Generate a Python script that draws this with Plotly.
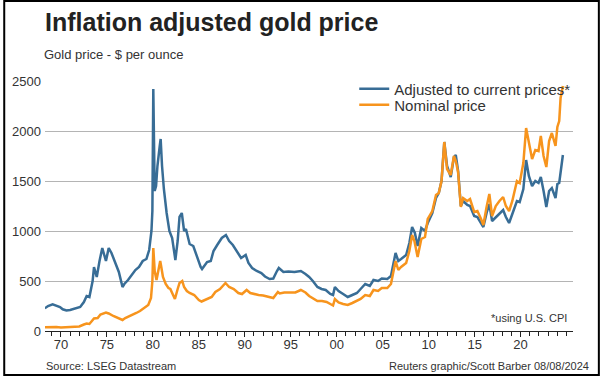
import plotly.graph_objects as go

# ---------------- data ----------------
adj_years = [1968.25, 1968.6, 1969.1, 1969.5, 1969.9, 1970.2, 1970.6, 1971.0, 1971.4, 1971.8,
             1972.1, 1972.5, 1972.8, 1973.1, 1973.45, 1973.6, 1973.9, 1974.2, 1974.5, 1974.9,
             1975.2, 1975.5, 1975.8, 1976.3, 1976.7, 1976.9, 1977.3, 1977.7, 1978.1, 1978.5,
             1978.9, 1979.3, 1979.6, 1979.85, 1979.95, 1980.05, 1980.1, 1980.2, 1980.35, 1980.5,
             1980.75, 1980.85, 1981.0, 1981.2, 1981.5, 1981.8, 1982.1, 1982.45, 1982.7, 1982.9,
             1983.15, 1983.4, 1983.6, 1984.0, 1984.4, 1984.7, 1985.2, 1985.35, 1985.9, 1986.3,
             1986.6, 1987.0, 1987.5, 1987.95, 1988.3, 1988.7, 1989.2, 1989.6, 1990.1, 1990.4,
             1990.8, 1991.3, 1991.8, 1992.2, 1992.7, 1993.1, 1993.5, 1993.7, 1994.2, 1994.75,
             1995.4, 1996.1, 1996.6, 1997.0, 1997.4, 1997.9, 1998.35, 1998.8, 1999.3, 1999.6,
             1999.8, 2000.2, 2000.7, 2001.2, 2001.7, 2002.2, 2002.6, 2003.1, 2003.6, 2004.0,
             2004.5, 2004.9, 2005.5, 2005.9, 2006.4, 2006.7, 2007.0, 2007.55, 2007.9, 2008.2,
             2008.5, 2008.8, 2009.2, 2009.6, 2009.9, 2010.4, 2010.8, 2011.1, 2011.4, 2011.7,
             2012.0, 2012.4, 2012.75, 2012.95, 2013.2, 2013.5, 2013.75, 2014.2, 2014.5, 2014.95,
             2015.3, 2015.7, 2015.95, 2016.3, 2016.6, 2016.9, 2017.3, 2017.7, 2018.1, 2018.4,
             2018.75, 2019.1, 2019.6, 2019.9, 2020.3, 2020.6, 2020.9, 2021.25, 2021.6, 2021.95,
             2022.2, 2022.5, 2022.8, 2023.1, 2023.4, 2023.8, 2024.0, 2024.2, 2024.4, 2024.55,
             2024.6]
adj_values = [227, 250, 267, 255, 240, 217, 205, 210, 220, 230,
              240, 290, 350, 340, 500, 640, 540, 700, 830, 700,
              830, 780, 710, 590, 440, 470, 510, 560, 610, 640,
              700, 720, 810, 1000, 1200, 2420, 1700, 1400, 1450, 1650,
              1850, 1920, 1650, 1420, 1180, 1000, 930, 710, 900, 1140,
              1180, 1000, 1020, 870, 850, 770, 640, 620, 690, 700,
              800, 860, 930, 960, 900, 860, 790, 730, 760, 680,
              630, 600, 580, 545, 520, 525, 600, 630, 590, 595,
              590, 600, 570, 540, 500, 440, 420, 410, 370, 360,
              440, 400, 370, 340, 360, 380, 420, 470, 450, 510,
              500, 525, 520, 550, 780, 700, 720, 760, 880, 1040,
              980, 850, 1030, 1000, 1080, 1180, 1330, 1380, 1500, 1890,
              1650, 1540, 1740, 1760, 1600, 1250, 1300, 1260, 1250, 1150,
              1140, 1080, 1040, 1180, 1270, 1100, 1140, 1180, 1210, 1140,
              1080, 1170, 1300, 1290, 1420, 1710, 1550, 1450, 1500, 1480,
              1540, 1400, 1240, 1400, 1430, 1330, 1470, 1480, 1640, 1720,
              1760]

nom_years = [1968.25, 1968.6, 1969.1, 1969.5, 1970.0, 1970.6, 1971.0, 1971.5, 1972.0, 1972.5,
             1972.8, 1973.1, 1973.5, 1973.6, 1974.0, 1974.3, 1974.9, 1975.2, 1975.7, 1976.3,
             1976.7, 1977.0, 1977.4, 1977.8, 1978.2, 1978.6, 1979.0, 1979.5, 1979.8, 1979.95,
             1980.05, 1980.2, 1980.4, 1980.6, 1980.8, 1980.9, 1981.1, 1981.4, 1981.7, 1981.9,
             1982.4, 1982.7, 1982.9, 1983.2, 1983.4, 1983.7, 1984.0, 1984.5, 1985.0, 1985.3,
             1985.9, 1986.4, 1986.8, 1987.3, 1987.9, 1988.3, 1988.8, 1989.3, 1989.7, 1990.2,
             1990.6, 1991.0, 1991.5, 1992.0, 1992.6, 1993.1, 1993.6, 1993.8, 1994.3, 1994.9,
             1995.5, 1996.1, 1996.6, 1997.0, 1997.5, 1997.9, 1998.4, 1998.9, 1999.4, 1999.6,
             1999.8, 2000.2, 2000.7, 2001.2, 2001.7, 2002.2, 2002.6, 2003.1, 2003.6, 2004.0,
             2004.5, 2004.9, 2005.5, 2005.9, 2006.4, 2006.7, 2007.0, 2007.55, 2007.9, 2008.2,
             2008.45, 2008.8, 2009.2, 2009.6, 2009.9, 2010.4, 2010.8, 2011.1, 2011.4, 2011.7,
             2012.0, 2012.4, 2012.75, 2012.95, 2013.2, 2013.5, 2013.75, 2014.2, 2014.5, 2014.95,
             2015.3, 2015.7, 2015.95, 2016.3, 2016.6, 2016.9, 2017.3, 2017.7, 2018.1, 2018.4,
             2018.75, 2019.1, 2019.6, 2019.9, 2020.3, 2020.6, 2020.9, 2021.25, 2021.6, 2021.95,
             2022.2, 2022.5, 2022.8, 2023.1, 2023.4, 2023.8, 2024.0, 2024.2, 2024.35, 2024.5,
             2024.6]
nom_values = [38, 40, 42, 40, 35, 36, 38, 40, 45, 65,
              75, 70, 110, 125, 130, 165, 185, 175, 150, 130,
              110, 130, 145, 160, 180, 200, 230, 260, 330, 500,
              830, 600, 510, 620, 700, 650, 540, 470, 430, 420,
              320, 420, 480, 500, 440, 400, 380, 360, 310, 295,
              320, 340, 390, 420, 480, 440, 420, 380, 370, 410,
              380, 370, 360, 355, 340, 330, 390, 375, 385, 385,
              385, 410, 385, 350, 325, 300, 300, 290, 265, 255,
              320, 285, 270, 260, 280, 300, 320, 360, 350, 410,
              400, 430, 430, 470, 700, 610, 640, 680, 800, 960,
              900, 740, 920, 940, 1120, 1200, 1360, 1380, 1500, 1890,
              1620, 1560, 1750, 1700, 1590, 1240, 1330, 1300, 1320, 1190,
              1200, 1120, 1060, 1240, 1370, 1150, 1250, 1300, 1340, 1250,
              1200, 1300, 1500, 1480, 1680, 2030, 1880, 1720, 1810, 1800,
              1950, 1750, 1640, 1900, 1980, 1850, 2040, 2100, 2330, 2400,
              2450]

tick_years = [1970, 1975, 1980, 1985, 1990, 1995, 2000, 2005, 2010, 2015, 2020]
tick_labels = ["70", "75", "80", "85", "90", "95", "00", "05", "10", "15", "20"]
y_ticks = [0, 500, 1000, 1500, 2000, 2500]

BLUE = "#386d96"
ORANGE = "#f7941d"
FONT = "Liberation Sans, Arial, sans-serif"
TXT = "#333333"

W, H = 600, 376
ML, MR, MT, MB = 42, 27, 81, 45
PW, PH = W - ML - MR, H - MT - MB


def px_x(p):
    return (p - ML) / PW


def px_y(p):
    return (H - MB - p) / PH


fig = go.Figure()
fig.add_trace(go.Scatter(x=adj_years, y=adj_values, mode="lines",
                         name="Adjusted to current prices*", legend="legend",
                         line=dict(color=BLUE, width=2.5)))
fig.add_trace(go.Scatter(x=nom_years, y=nom_values, mode="lines",
                         name="Nominal price", legend="legend2",
                         line=dict(color=ORANGE, width=2.5)))

leg_common = dict(xanchor="left", yanchor="middle", bgcolor="rgba(0,0,0,0)",
                  font=dict(size=15, color=TXT), borderwidth=0, itemwidth=30)

fig.update_layout(
    width=W, height=H,
    margin=dict(l=ML, r=MR, t=MT, b=MB),
    paper_bgcolor="white", plot_bgcolor="white",
    font=dict(family=FONT, color=TXT, size=13),
    showlegend=True,
    legend=dict(x=px_x(353), y=px_y(89), **leg_common),
    legend2=dict(x=px_x(353), y=px_y(105), **leg_common),
    xaxis=dict(range=[1968.27, 2025.7], tickmode="array", tickvals=tick_years,
               ticktext=tick_labels, showgrid=False, showline=True,
               linecolor="#222222", linewidth=1, ticks="outside", ticklen=5,
               tickcolor="#222222", tickfont=dict(size=13, color=TXT),
               ticklabelstandoff=-4,
               minor=dict(tickmode="linear", tick0=1968, dtick=1, ticks="outside",
                          ticklen=4, tickcolor="#222222", showgrid=False),
               zeroline=False),
    yaxis=dict(range=[0, 2500], tickvals=y_ticks, showgrid=True,
               gridcolor="#b4b4b4", gridwidth=1, zeroline=False, showline=False,
               ticks="", tickfont=dict(size=13, color=TXT), ticklabelstandoff=3),
)

annotations = [
    dict(text="<b>Inflation adjusted gold price</b>", x=px_x(40), y=px_y(22),
         xanchor="left", yanchor="middle", font=dict(size=25, color="#222222")),
    dict(text="Gold price - $ per ounce", x=px_x(39), y=px_y(55),
         xanchor="left", yanchor="middle", font=dict(size=13, color=TXT)),
    dict(text="*using U.S. CPI", x=px_x(569), y=px_y(318),
         xanchor="right", yanchor="middle", font=dict(size=11, color=TXT)),
    dict(text="Source: LSEG Datastream", x=px_x(41), y=px_y(366),
         xanchor="left", yanchor="middle", font=dict(size=11, color=TXT)),
    dict(text="Reuters graphic/Scott Barber 08/08/2024", x=px_x(591), y=px_y(366),
         xanchor="right", yanchor="middle", font=dict(size=11, color=TXT)),
]
for a in annotations:
    a.update(xref="paper", yref="paper", showarrow=False)
fig.update_layout(annotations=annotations)

fig.add_shape(type="rect", xref="paper", yref="paper",
              x0=px_x(1), x1=px_x(599), y0=px_y(375), y1=px_y(1),
              line=dict(color="#000000", width=2), fillcolor="rgba(0,0,0,0)",
              layer="above")

fig.write_html("out.html",
               config={"displayModeBar": False},
               post_script="document.body.style.margin='0';"
                           "document.body.style.padding='0';"
                           "document.body.style.overflow='hidden';"
                           "document.documentElement.style.overflow='hidden';")
